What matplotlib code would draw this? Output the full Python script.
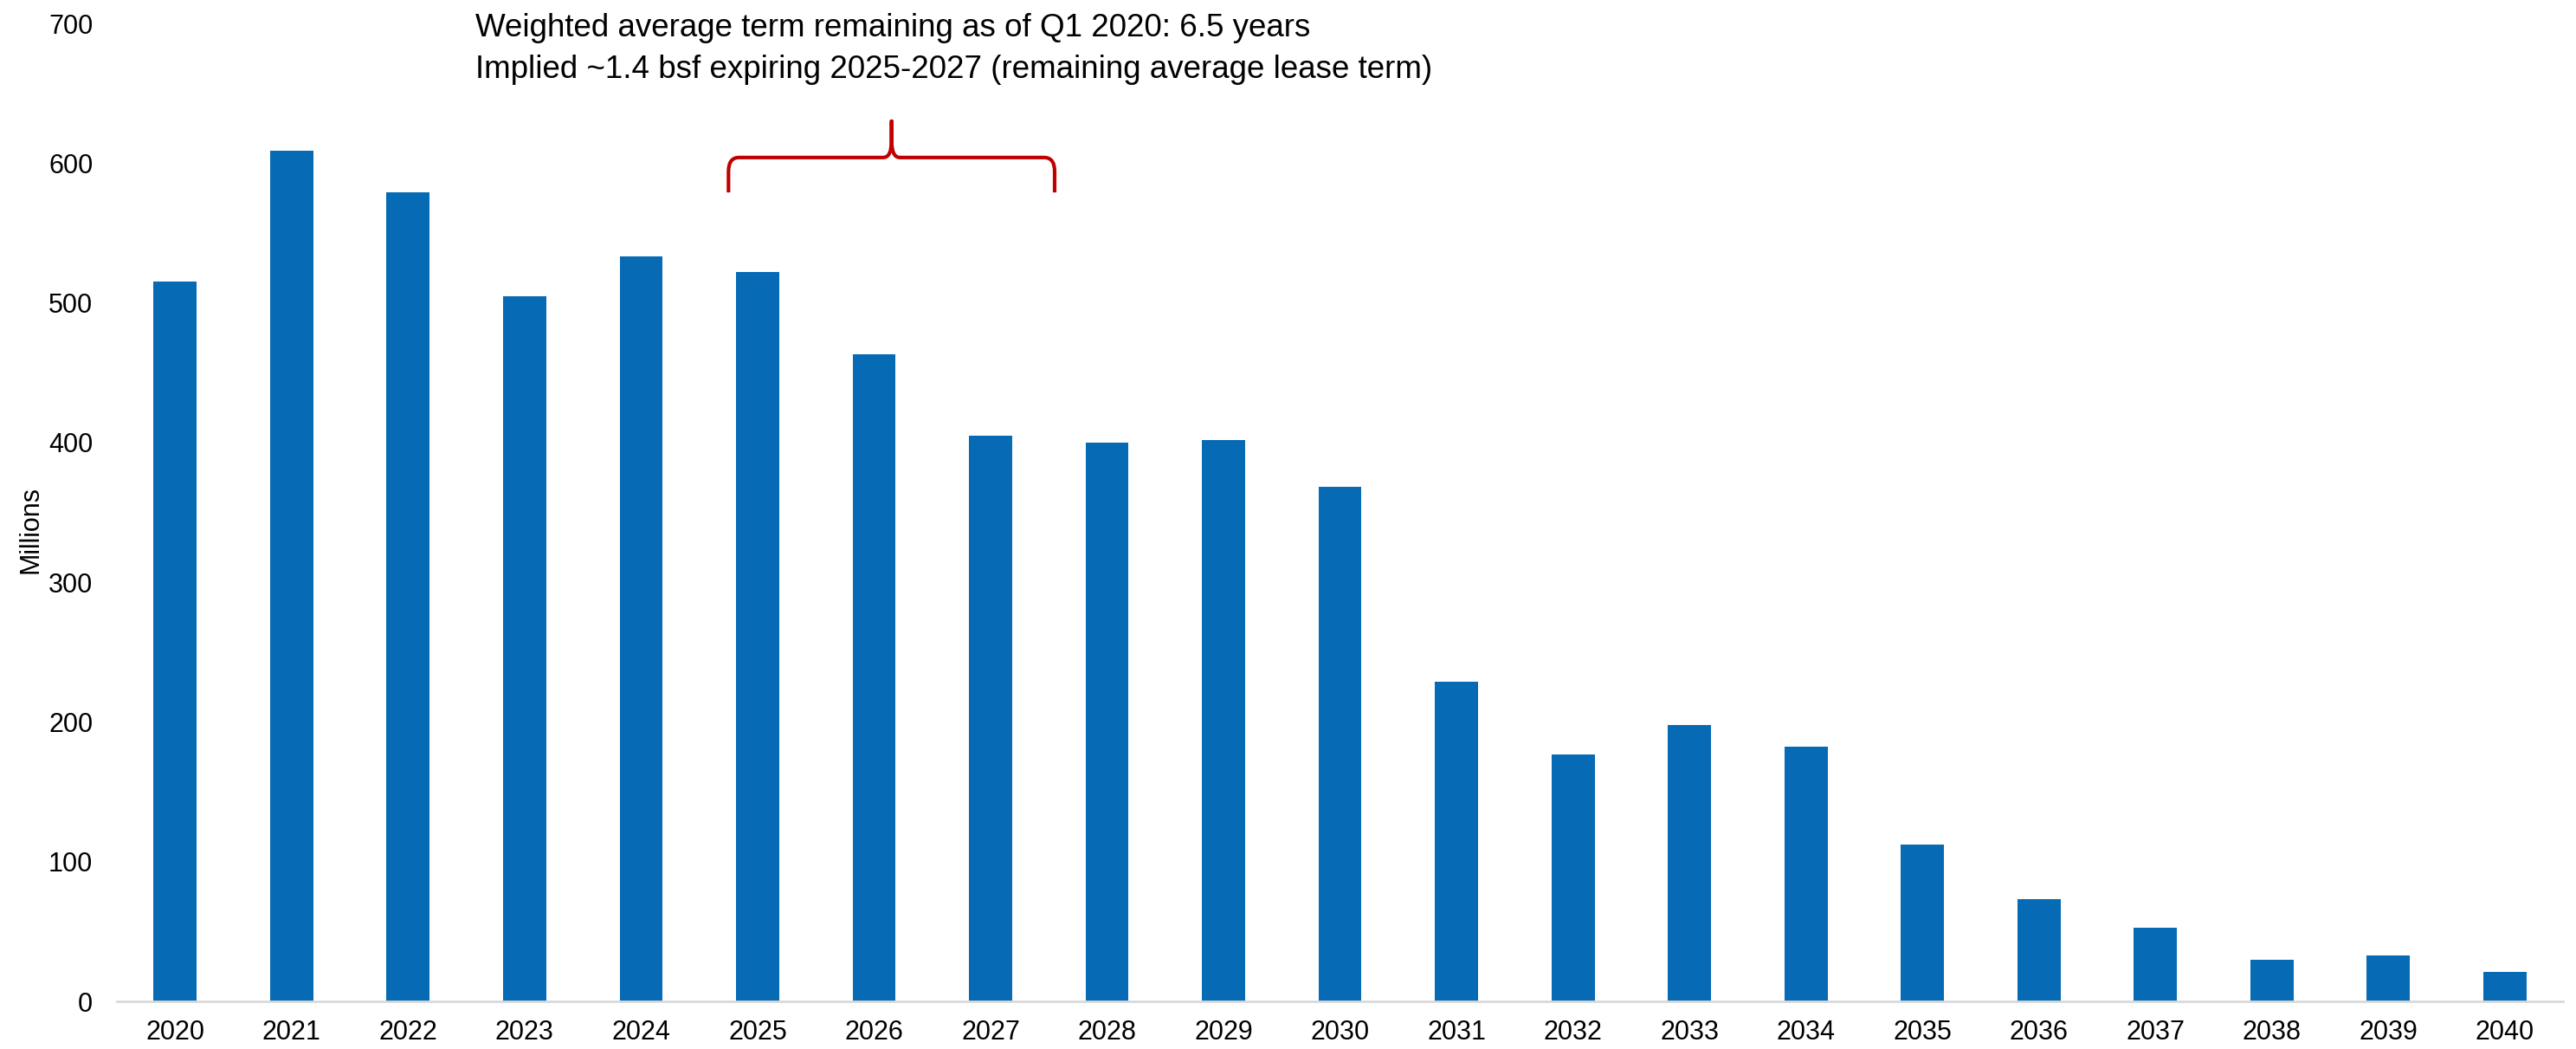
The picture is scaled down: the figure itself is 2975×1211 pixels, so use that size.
import matplotlib
matplotlib.use("Agg")
import matplotlib.pyplot as plt
from matplotlib.path import Path
from matplotlib.patches import PathPatch

plt.rcParams['font.family'] = ['Liberation Sans', 'DejaVu Sans']

years = [str(y) for y in range(2020, 2041)]
values = [515, 609, 579, 505, 533, 522, 463, 405, 400, 402, 368,
          229, 177, 198, 182, 112, 73, 53, 30, 33, 21]
yticks = [0, 100, 200, 300, 400, 500, 600, 700]
note_lines = ["Weighted average term remaining as of Q1 2020: 6.5 years",
              "Implied ~1.4 bsf expiring 2025-2027 (remaining average lease term)"]

bar_color = "#066AB4"
brace_color = "#C00000"

fig = plt.figure(figsize=(29.75, 12.11), dpi=100)
ax = fig.add_axes([0.0454, 0.0454, 0.9496, 0.9323])

x = list(range(len(years)))
ax.bar(x, values, width=0.37, color=bar_color, zorder=2)

ax.set_xlim(-0.5, len(years) - 0.5)
ax.set_ylim(0, 700)
ax.set_yticks(yticks)
ax.set_xticks(x)
ax.set_xticklabels(years)
ax.tick_params(axis='both', length=0, labelsize=22)
ax.tick_params(axis='x', pad=15)
ax.tick_params(axis='y', pad=20)
for s in ['top', 'right', 'left']:
    ax.spines[s].set_visible(False)
ax.spines['bottom'].set_color('#D9D9D9')
ax.spines['bottom'].set_linewidth(2)

fig.text(35 / 2975, 1 - 611 / 1211, "Millions", fontsize=22, rotation=90,
         ha='center', va='center')

# curly brace over 2025-2027
xl, xr = 4.75, 7.55
xc = (xl + xr) / 2
yb, yh, yt = 579, 604, 630
dx, dy = 0.06, 10
verts = [
    (xl, yb), (xl, yh - dy), (xl, yh), (xl + dx * 1.5, yh),
    (xc - dx * 1.2, yh), (xc, yh), (xc, yh + dy * 1.2), (xc, yt),
    (xc, yh + dy * 1.2), (xc, yh), (xc + dx * 1.2, yh),
    (xr - dx * 1.5, yh), (xr, yh), (xr, yh - dy), (xr, yb),
]
codes = [Path.MOVETO, Path.LINETO, Path.CURVE3, Path.CURVE3,
         Path.LINETO, Path.CURVE3, Path.CURVE3, Path.LINETO,
         Path.LINETO, Path.CURVE3, Path.CURVE3,
         Path.LINETO, Path.CURVE3, Path.CURVE3, Path.LINETO]
brace = PathPatch(Path(verts, codes), fill=False, edgecolor=brace_color,
                  linewidth=3, capstyle='butt', joinstyle='round', zorder=3)
ax.add_patch(brace)

fig.text(549 / 2975, 1 - 32 / 1211, note_lines[0], fontsize=26.5,
         ha='left', va='center')
fig.text(549 / 2975, 1 - 80 / 1211, note_lines[1], fontsize=26.5,
         ha='left', va='center')

fig.savefig("out.png", dpi=100)
